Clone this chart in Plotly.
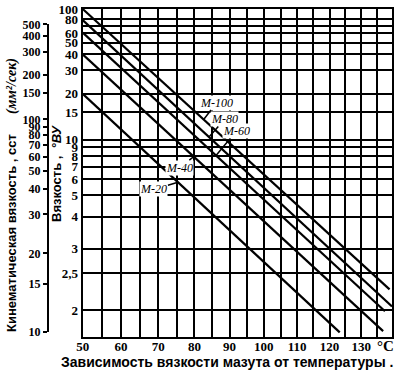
import numpy as np
import plotly.graph_objects as go

# ---------------- data ----------------
GRADES = ["М-20", "М-40", "М-60", "М-80", "М-100"]
T_START = [50, 50, 50, 50, 50]            # °C
T_END = [123.2, 137.1, 137.7, 140.0, 139.2]  # °C
VU_START = [20, 40, 61, 79, 100]          # °ВУ at start
VU_END = [1.80, 1.81, 1.99, 2.04, 2.25]   # °ВУ at end
LABEL_T = [75.4, 79.8, 86.1, 84.1, 82.6]  # temperature where each leader touches its line

X_TICKS = [50, 55, 60, 65, 70, 75, 80, 85, 90, 95, 100, 105, 110, 115, 120, 125, 130, 135, 140]
X_LABELS = ["50", "", "60", "", "70", "", "80", "", "90", "", "100", "", "110", "", "120", "", "130", "", ""]
VU_TICKS = [2, 2.5, 3, 4, 5, 6, 7, 8, 9, 10, 15, 20, 30, 40, 50, 60, 70, 80, 100]
VU_LABELS = ["2", "2,5", "3", "4", "5", "6", "7", "8", "9", "10", "15", "20", "30", "40", "50", "60", "", "80", "100"]
CST_TICKS = [10, 15, 20, 30, 40, 50, 60, 70, 80, 90, 100, 150, 200, 300, 400, 500]
T_MIN, T_MAX = 50, 140
VU_MIN, VU_MAX = 1.765, 100
CST_MIN, CST_MAX = 10, 500


# ---------------- scale transforms ----------------
def tx(t):
    return np.log10(np.asarray(t, dtype=float) + 273.15)


def vu_to_cst(e):
    e = np.asarray(e, dtype=float)
    return 7.31 * e - 6.31 / e


def ty(e):
    return np.log10(np.log10(vu_to_cst(e)))


def ty2(nu):
    return np.log10(np.log10(np.asarray(nu, dtype=float) + 0.7))


# ---------------- layout geometry ----------------
W, H = 400, 377
ML, MR, MT, MB = 48, 8, 9, 40
PW, PH = W - ML - MR, H - MT - MB
X_DOMAIN0 = (82.7 - ML) / PW
Y2_DOMAIN = [(H - MB - 331.7) / PH, (H - MB - 24.3) / PH]

TICK_FONT = dict(family="Liberation Serif", size=13, color="black", weight="bold")
GRID = dict(showgrid=True, gridcolor="black", gridwidth=2)

fig = go.Figure()

for g, t0, t1, e0, e1 in zip(GRADES, T_START, T_END, VU_START, VU_END):
    fig.add_trace(go.Scatter(
        x=tx([t0, t1]), y=ty([e0, e1]), mode="lines",
        line=dict(color="black", width=2.2), name=g, showlegend=False,
        hoverinfo="skip"))

# invisible trace to carry the kinematic viscosity axis
fig.add_trace(go.Scatter(x=tx([T_MIN]), y=ty2([CST_MIN]), yaxis="y2",
                         mode="markers", marker=dict(opacity=0),
                         showlegend=False, hoverinfo="skip"))

fig.update_layout(
    width=W, height=H,
    margin=dict(l=ML, r=MR, t=MT, b=MB, autoexpand=False),
    paper_bgcolor="white", plot_bgcolor="rgba(0,0,0,0)",
    xaxis=dict(
        domain=[X_DOMAIN0, 1],
        range=[float(tx(T_MIN)), float(tx(T_MAX))],
        tickmode="array", tickvals=tx(X_TICKS).tolist(), ticktext=X_LABELS,
        tickfont=TICK_FONT, ticks="", showline=True, linecolor="black",
        linewidth=2, mirror=True, zeroline=False, ticklabelstandoff=-4, **GRID),
    yaxis=dict(
        range=[float(ty(VU_MIN)), float(ty(VU_MAX))],
        tickmode="array", tickvals=ty(VU_TICKS).tolist(), ticktext=VU_LABELS,
        tickfont=TICK_FONT, ticks="", showline=True, linecolor="black",
        linewidth=2, mirror=True, zeroline=False, ticklabelstandoff=0, **GRID),
    yaxis2=dict(
        domain=Y2_DOMAIN, anchor="free", position=0, side="left",
        range=[float(ty2(CST_MIN)), float(ty2(CST_MAX))],
        tickmode="array", tickvals=ty2(CST_TICKS).tolist(),
        ticktext=[str(v) for v in CST_TICKS],
        tickfont=dict(TICK_FONT, size=12), ticks="outside", ticklen=4, tickwidth=2,
        tickcolor="black", showline=True, linecolor="black", linewidth=2,
        showgrid=False, zeroline=False),
)


def px_x(p):
    return (p - ML) / PW


def px_y(p):
    return (H - MB - p) / PH


# line labels with leaders
LABEL_OFFSETS = [(-24, 7), (-14, 11), (20, -24), (16, -18), (13, -17)]
for g, t0, t1, e0, e1, tl, (ax, ay) in zip(GRADES, T_START, T_END, VU_START, VU_END,
                                           LABEL_T, LABEL_OFFSETS):
    x0, x1 = tx(t0), tx(t1)
    y0, y1 = ty(e0), ty(e1)
    xt = tx(tl)
    yt = y0 + (y1 - y0) * (xt - x0) / (x1 - x0)
    fig.add_annotation(
        x=float(xt), y=float(yt), xref="x", yref="y", text=g,
        showarrow=True, arrowhead=0, arrowwidth=1.5, arrowcolor="black",
        ax=ax, ay=ay, standoff=0, bgcolor="white", borderpad=0,
        font=dict(family="Liberation Serif", size=12, color="black", style="italic"))


def paper_text(px, py, text, font, angle=0):
    fig.add_annotation(x=px_x(px), y=px_y(py), xref="paper", yref="paper",
                       xanchor="center", yanchor="middle", text=text,
                       textangle=angle, showarrow=False, font=font)


# °C unit
paper_text(385, 346, "°C",
           dict(family="Liberation Serif", size=15, color="black", weight="bold"))

# bottom caption
paper_text(227, 362, "Зависимость вязкости мазута от температуры .",
           dict(family="Liberation Sans", size=14, color="black", weight="bold"))

# left outer title
paper_text(12, 233, "Кинематическая вязкость , сст",
           dict(family="Liberation Sans", size=13, color="black", weight="bold"), -90)
paper_text(12, 86, "(мм²/сек)",
           dict(family="Liberation Serif", size=14, color="black", weight="bold",
                style="italic"), -90)

# inner title
paper_text(56, 174, "Вязкость ,  <i>°ВУ</i>",
           dict(family="Liberation Sans", size=13, color="black", weight="bold"), -90)

fig.write_html("out.html", config={"displayModeBar": False},
               post_script="document.body.style.margin='0';")
